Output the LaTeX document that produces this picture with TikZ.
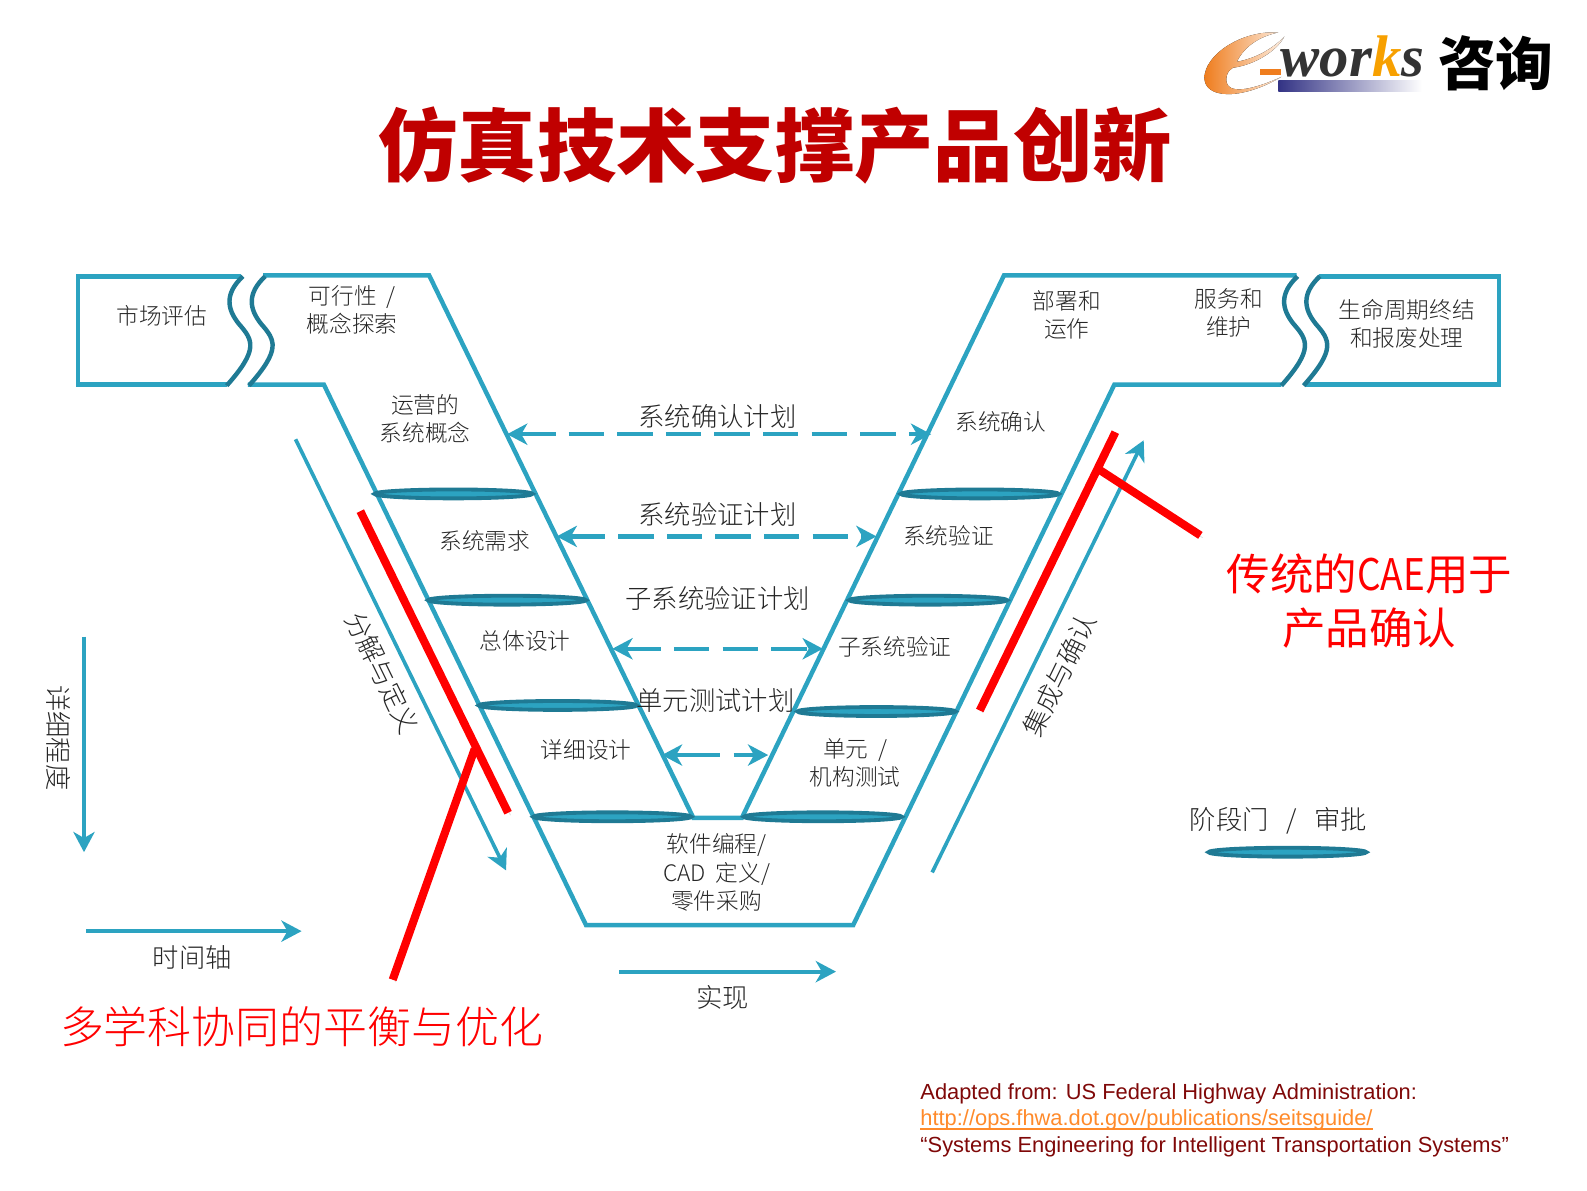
\documentclass[tikz,border=0pt]{standalone}
\usepackage{fontspec}
\setmainfont{Liberation Sans}
\newfontfamily\cjk{Noto Sans CJK SC Light}
\newfontfamily\cjkreg{Noto Sans CJK SC}
\newfontfamily\cjktitle{Noto Sans CJK SC Black}
\newfontfamily\logofont{Liberation Serif}
\usetikzlibrary{arrows.meta,shapes.geometric}
\newcommand{\linktext}[1]{\setbox0=\hbox{#1}\rlap{#1}\rule[-1.8pt]{\wd0}{0.6pt}}
\definecolor{vteal}{HTML}{2CA3C1}
\definecolor{vdark}{HTML}{1F7A94}
\definecolor{vred}{HTML}{FF0000}
\definecolor{titlered}{HTML}{C00000}
\definecolor{noteRed}{HTML}{7F0808}
\definecolor{noteLink}{HTML}{FF8A2A}
\definecolor{logoorange}{HTML}{EF7D1E}
\definecolor{logok}{HTML}{F7A000}
\begin{document}
\begin{tikzpicture}[x=0.5pt,y=-0.5pt,>={Stealth[length=10pt,width=10.5pt,inset=3pt]},
	vline/.style={draw=vteal,line width=2.2pt,line join=miter},
	wave/.style={draw=vdark,line width=2.2pt},
	gate/.style={ellipse,draw=vdark,line width=1.9pt,fill=vteal,minimum width=78pt,minimum height=4.4pt,inner sep=0pt},
	plan/.style={vteal,line width=2.2pt,<->,dash pattern=on 17.5pt off 6.5pt},
	axisline/.style={vteal,line width=2pt,->},
	slantline/.style={axisline,line width=1.8pt},
	redbar/.style={vred,line width=4pt,preaction={draw=black,opacity=.12,transform canvas={shift={(1.2pt,-1.2pt)}}}},
	lbl/.style={font=\cjk\fontsize{11.2}{14}\selectfont,align=center,text=black!85,inner sep=0pt},
	planlbl/.style={font=\cjk\fontsize{13}{16}\selectfont,align=center,text=black!85,inner sep=0pt},
	redlbl/.style={font=\cjk\fontsize{21.7}{27}\selectfont,align=center,text=vred,inner sep=0pt}]
	\useasboundingbox (0,0) rectangle (1568,1176);
	% title and logo
	\node[font=\cjktitle\fontsize{39.2}{44}\selectfont,text=titlered,inner sep=0pt] (title) at (766,144) {仿真技术支撑产品创新};
	\fill[left color=logoorange,right color=logoorange!12] (1263,32) .. controls (1225,30) and (1190,55) .. (1190,77) .. controls (1190,97) and (1225,100) .. (1266,76) .. controls (1235,90) and (1208,95) .. (1212,75) .. controls (1213,71) and (1215,69) .. (1218,67) .. controls (1240,64) and (1262,50) .. (1269,36) .. controls (1258,48) and (1240,58) .. (1222,61) .. controls (1230,45) and (1245,36) .. (1263,32) -- cycle;
	\fill[logoorange] (1245,68) rectangle (1266,74);
	\node[font=\logofont\bfseries\itshape\fontsize{29}{32}\selectfont,text=black!80,inner sep=0pt,anchor=base west] (works) at (1265,76) {wor\textcolor{logok}{k}s};
	\shade[left color=blue!40!black!80,right color=white] (1263,80) rectangle (1405,90);
	\node[font=\cjktitle\fontsize{28.5}{30}\selectfont,inner sep=0pt] (consult) at (1478,63) {咨询};
	% the V outline
	\coordinate (topL) at (260,272);
	\coordinate (topLi) at (424,272);
	\coordinate (botLi) at (685,808);
	\coordinate (botRi) at (733,808);
	\coordinate (topRi) at (992,272);
	\coordinate (topR) at (1281,272);
	\coordinate (lowR) at (1266,380);
	\coordinate (kneeR) at (1101,380);
	\coordinate (baseR) at (843,914);
	\coordinate (baseL) at (579,914);
	\coordinate (kneeL) at (320,380);
	\coordinate (lowL) at (245,380);
	\draw[vline] (topL)--(topLi)--(botLi)--(botRi)--(topRi)--(topR);
	\draw[vline] (lowR)--(kneeR)--(baseR)--(baseL)--(kneeL)--(lowL);
	\draw[vline] (238,273)--(77,273)--(77,380)--(224,380);
	\draw[vline] (1303,273)--(1481,273)--(1481,380)--(1289,380);
	\draw[wave] (240,273) .. controls (222,290) and (224,305) .. (236,320) .. controls (250,336) and (256,345) .. (224,381);
	\draw[wave] (262,273) .. controls (244,290) and (246,305) .. (258,320) .. controls (272,336) and (278,345) .. (246,381);
	\draw[wave] (1282,273) .. controls (1264,290) and (1266,305) .. (1278,320) .. controls (1292,336) and (1298,345) .. (1266,381);
	\draw[wave] (1304,273) .. controls (1286,290) and (1288,305) .. (1300,320) .. controls (1314,336) and (1320,345) .. (1288,381);
	% stage gates
	\node[gate] (gateA) at (448,488) {};
	\node[gate] (gateB) at (501,593) {};
	\node[gate] (gateC) at (551,697) {};
	\node[gate] (gateD) at (605,807) {};
	\node[gate] (gateE) at (968,488) {};
	\node[gate] (gateF) at (917,593) {};
	\node[gate] (gateG) at (866,703) {};
	\node[gate] (gateH) at (813,807) {};
	\node[gate] (gateKey) at (1272,842) {};
	% phases
	\node[lbl] (market) at (160,312) {市场评估};
	\node[lbl] (feasible) at (348,306) {可行性\ \ /\\概念探索};
	\node[lbl] (concept) at (420,414) {运营的\\系统概念};
	\node[lbl] (require) at (479,534) {系统需求};
	\node[lbl] (highdes) at (519,633) {总体设计};
	\node[lbl] (detail) at (579,741) {详细设计};
	\node[lbl] (coding) at (708,862) {软件编程/\\CAD\ \ 定义/\\零件采购};
	\node[lbl] (unit) at (845,754) {单元\ \ /\\机构测试};
	\node[lbl] (subver) at (884,639) {子系统验证};
	\node[lbl] (sysver) at (937,529) {系统验证};
	\node[lbl] (sysval) at (989,417) {系统确认};
	\node[lbl] (deploy) at (1054,311) {部署和\\运作};
	\node[lbl] (service) at (1214,309) {服务和\\维护};
	\node[lbl] (retire) at (1390,320) {生命周期终结\\和报废处理};
	% plans across the V
	\node[planlbl] (planA) at (709,411) {系统确认计划};
	\node[planlbl] (planB) at (709,508) {系统验证计划};
	\node[planlbl] (planC) at (709,591) {子系统验证计划};
	\node[planlbl] (planD) at (707,692) {单元测试计划};
	\coordinate (planAl) at (501,429);
	\coordinate (planAr) at (920,429);
	\coordinate (planBl) at (550,530);
	\coordinate (planBr) at (866,530);
	\coordinate (planCl) at (605,641);
	\coordinate (planCr) at (813,641);
	\coordinate (planDl) at (654,746);
	\coordinate (planDr) at (759,746);
	\draw[plan] (planAl)--(planAr);
	\draw[plan] (planBl)--(planBr);
	\draw[plan] (planCl)--(planCr);
	\draw[plan,dash pattern=on 22.5pt off 6.5pt] (planDl)--(planDr);
	% axes
	\coordinate (defA) at (292,434);
	\coordinate (defB) at (500,860);
	\coordinate (intA) at (921,862);
	\coordinate (intB) at (1130,435);
	\coordinate (levelA) at (83,629);
	\coordinate (levelB) at (83,842);
	\coordinate (timeA) at (85,920);
	\coordinate (timeB) at (298,920);
	\coordinate (realA) at (612,960);
	\coordinate (realB) at (826,960);
	\draw[slantline] (defA)--(defB);
	\draw[slantline] (intA)--(intB);
	\draw[axisline] (levelA)--(levelB);
	\draw[axisline] (timeA)--(timeB);
	\draw[axisline] (realA)--(realB);
	\node[planlbl,rotate=-64] (defn) at (378,665) {分解与定义};
	\node[planlbl,rotate=64] (integ) at (1047,667) {集成与确认};
	\node[planlbl,rotate=-90] (level) at (58,729) {详细程度};
	\node[planlbl] (time) at (190,946) {时间轴};
	\node[planlbl] (real) at (714,986) {实现};
	\node[planlbl] (gatetxt) at (1263,811) {阶段门\ \ \ /\ \ \ 审批};
	% red marks
	\coordinate (redLa) at (356,505);
	\coordinate (redLb) at (502,803);
	\coordinate (redLc) at (388,968);
	\coordinate (redLd) at (469,740);
	\coordinate (redRa) at (968,702);
	\coordinate (redRb) at (1102,427);
	\coordinate (redRc) at (1086,464);
	\coordinate (redRd) at (1186,529);
	\draw[redbar] (redLa)--(redLb);
	\draw[redbar] (redLc)--(redLd);
	\draw[redbar] (redRa)--(redRb);
	\draw[redbar] (redRc)--(redRd);
	\node[redlbl] (balance) at (298,1014) {多学科协同的平衡与优化};
	\node[redlbl,font=\cjkreg\fontsize{21.5}{27}\selectfont] (cae) at (1353,594) {传统的\scalebox{0.85}[1]{CAE}用于\\产品确认};
	% source
	\node[anchor=north west,align=left,inner sep=0pt,font=\fontsize{10.8}{13.2}\selectfont,text=noteRed] (source) at (909,1070) {Adapted from: US Federal Highway Administration:\\\textcolor{noteLink}{\linktext{http://ops.fhwa.dot.gov/publications/seitsguide/}}\\“Systems Engineering for Intelligent Transportation Systems”};
\end{tikzpicture}
\end{document}
